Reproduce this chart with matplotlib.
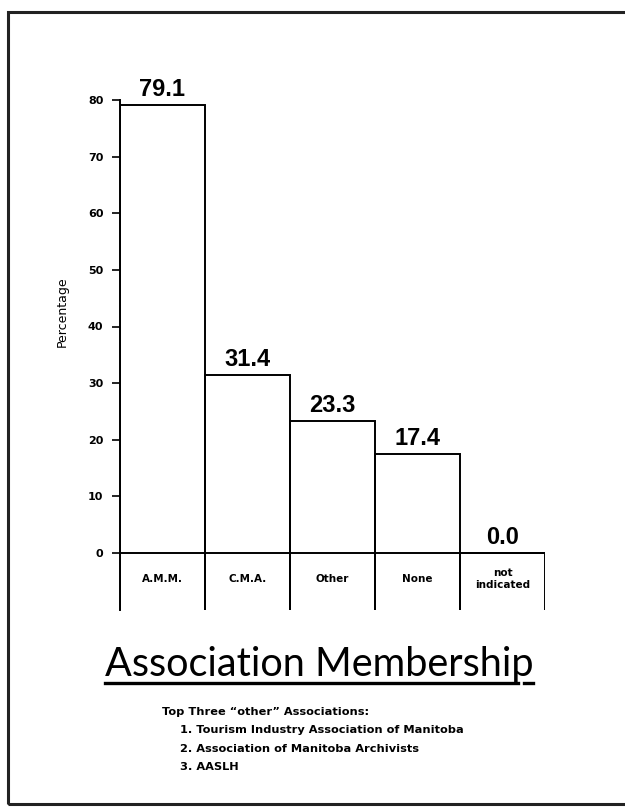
import numpy as np
import matplotlib
matplotlib.use("Agg")
import matplotlib.pyplot as plt
from matplotlib.patches import Rectangle
from matplotlib.lines import Line2D

# membership data (% of respondents)
categorias = ["A.M.M.", "C.M.A.", "Other", "None", "not\nindicated"]
porcentajes = [79.1, 31.4, 23.3, 17.4, 0.0]
ticks_y = [0, 10, 20, 30, 40, 50, 60, 70, 80]
otras = ["1. Tourism Industry Association of Manitoba",
         "2. Association of Manitoba Archivists",
         "3. AASLH"]

W, H = 625, 807
fig = plt.figure(figsize=(W / 100, H / 100), dpi=100)
fig.patch.set_facecolor("white")

# ── axes placed in pixel terms ───────────────────────────────────────────────
PX_UNIT = (553 - 100) / 80.0       # pixels per percentage point
Y0 = 553                           # pixel row of the 0 line
y_bot = -(610 - Y0) / PX_UNIT
y_top = 90
ax_top_px = Y0 - y_top * PX_UNIT
ax = fig.add_axes([120 / W, (H - 610) / H, 425 / W, (610 - ax_top_px) / H])
ax.set_xlim(0, len(categorias))
ax.set_ylim(y_bot, y_top)

x = np.arange(len(categorias)) + 0.5
base = y_bot - 3   # bars run below the axes so the bottom edge is clipped
ax.bar(x, np.array(porcentajes) - base, bottom=base, width=1.0,
       fill=False, edgecolor="black", linewidth=1.4)
ax.axhline(0, color="black", lw=1.4)

for xi, v in zip(x, porcentajes):
    ax.annotate(f"{v:.1f}", (xi, v), xytext=(0, 3), textcoords="offset points",
                ha="center", va="bottom", fontsize=17, fontweight="bold",
                family="Liberation Sans")

for xi, c in zip(x, categorias):
    ax.text(xi, -(579 - Y0) / PX_UNIT, c, ha="center", va="center",
            fontsize=7.5, fontweight="bold", linespacing=1.3,
            family="DejaVu Sans")

for s in ["top", "right", "bottom"]:
    ax.spines[s].set_visible(False)
ax.spines["left"].set_bounds(y_bot, 80)
ax.spines["left"].set_linewidth(1.4)
ax.set_xticks([])
ax.set_yticks(ticks_y)
ax.tick_params(axis="y", direction="out", length=6, width=1.2, pad=6,
               labelsize=8)
for lab in ax.get_yticklabels():
    lab.set_fontweight("bold")

fig.text(62 / W, 1 - 312 / H, "Percentage", rotation=90, ha="center",
         va="center", fontsize=9)

# ── title with underline ─────────────────────────────────────────────────────
fig.text(319 / W, 1 - 676 / H, "Association Membership", ha="center",
         va="baseline", fontsize=28.5, family="Lato")
fig.add_artist(Line2D([105 / W, 518 / W], [1 - 683 / H] * 2,
                      color="black", lw=2.4))
fig.add_artist(Line2D([524 / W, 533 / W], [1 - 683 / H] * 2,
                      color="black", lw=2.4))

# ── footnote ─────────────────────────────────────────────────────────────────
fig.text(162 / W, 1 - 712 / H, "Top Three \u201cother\u201d Associations:",
         ha="left", va="center", fontsize=8.2, fontweight="bold")
for i, linea in enumerate(otras):
    fig.text(180 / W, 1 - (730 + i * 18.5) / H, linea, ha="left",
             va="center", fontsize=8.2, fontweight="bold")

# page frame
fig.add_artist(Rectangle((8 / W, 1 - 804 / H), 1.2, (804 - 12) / H,
                         transform=fig.transFigure, fill=False,
                         edgecolor="#222222", lw=2.2, clip_on=False))

fig.savefig("out.png", dpi=100)
